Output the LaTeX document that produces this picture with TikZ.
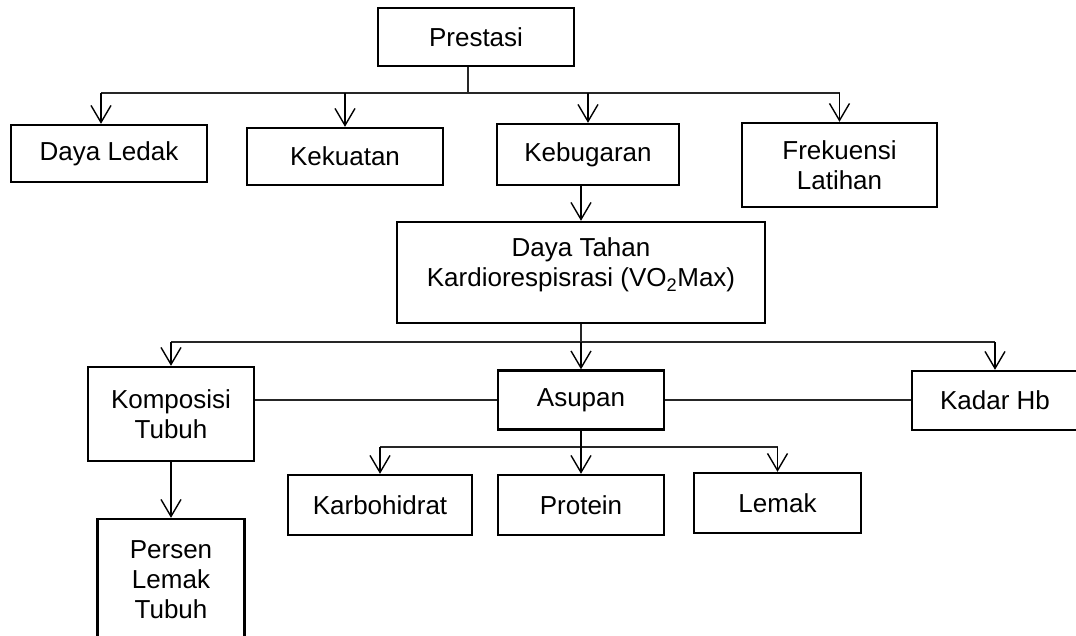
\documentclass[tikz,border=0pt]{standalone}
\usepackage{fontspec}
\setmainfont{Liberation Sans}
\usetikzlibrary{arrows.meta}
\tikzset{
  kotak/.style={draw, line width=2.4pt, inner sep=0pt, align=center,
    font=\fontsize{26}{30}\selectfont},
  garis/.style={line width=1.2pt, black!85},
  panah/.style={line width=1.4pt, -{Straight Barb[length=17pt,width=20pt]}},
}
\begin{document}
\begin{tikzpicture}[x=1pt,y=-1pt]
    \useasboundingbox (0,0) rectangle (1076,635);
    \node[kotak, minimum width=196pt, minimum height=58pt] (prestasi) at (476,37){Prestasi};
    \node[kotak, minimum width=196pt, minimum height=57pt] (dayaledak) at (109,153.5){Daya Ledak};
    \node[kotak, minimum width=196pt, minimum height=57pt] (kekuatan) at (345,156.5){Kekuatan};
    \node[kotak, minimum width=182pt, minimum height=61pt] (kebugaran) at (588,154.5){Kebugaran};
    \node[kotak, minimum width=195pt, minimum height=84pt] (frekuensi) at (839.5,165){Frekuensi\\Latihan};
    \node[kotak, minimum width=368pt, minimum height=101pt] (tahan) at (581,272.5){Daya Tahan\\Kardiorespisrasi (VO\textsubscript{2}Max)\\[-10pt]\mbox{}};
    \node[kotak, minimum width=166pt, minimum height=94pt] (komposisi) at (171,414){Komposisi\\Tubuh};
    \node[kotak, minimum width=166pt, minimum height=59pt] (asupan) at (581,400){Asupan};
    \node[kotak, minimum width=166pt, minimum height=59pt] (kadar) at (995,400.5){Kadar Hb};
    \node[kotak, minimum width=184pt, minimum height=60pt] (karbo) at (380,505){Karbohidrat};
    \node[kotak, minimum width=166pt, minimum height=60pt] (protein) at (581,505){Protein};
    \node[kotak, minimum width=167pt, minimum height=60pt] (lemak) at (777.5,503){Lemak};
    \node[kotak, minimum width=147pt, minimum height=121pt] (persen) at (171,579.5){Persen\\Lemak\\Tubuh};
    % cabang dari prestasi
    \coordinate (cabang1) at (468,93);
    \draw[garis] (prestasi.south -| cabang1) -- (cabang1);
    \draw[garis] ([xshift=-8pt]dayaledak.north |- cabang1) -- (frekuensi.north |- cabang1);
    \draw[panah] ([xshift=-8pt]dayaledak.north |- cabang1) -- ([xshift=-8pt]dayaledak.north);
    \foreach \n in {kekuatan,kebugaran,frekuensi}
        \draw[panah] (\n.north |- cabang1) -- (\n.north);
    \draw[panah] (kebugaran.south -| tahan) -- (tahan.north);
    % cabang dari daya tahan
    \coordinate (cabang2) at (581,342);
    \draw[garis] (tahan.south) -- (cabang2);
    \draw[garis] (komposisi.north |- cabang2) -- (kadar.north |- cabang2);
    \foreach \n in {komposisi,asupan,kadar}
        \draw[panah] (\n.north |- cabang2) -- (\n.north);
    \draw[garis] (komposisi.east |- asupan) -- (asupan.west);
    \draw[garis] (asupan.east) -- (asupan.east -| kadar.west);
    % cabang dari asupan
    \coordinate (cabang3) at (581,447);
    \draw[garis] (karbo.north |- cabang3) -- (lemak.north |- cabang3);
    \draw[panah] (asupan.south) -- (protein.north);
    \draw[panah] (karbo.north |- cabang3) -- (karbo.north);
    \draw[panah] (lemak.north |- cabang3) -- (lemak.north);
    \draw[panah] (komposisi.south) -- (persen.north);
\end{tikzpicture}
\end{document}
